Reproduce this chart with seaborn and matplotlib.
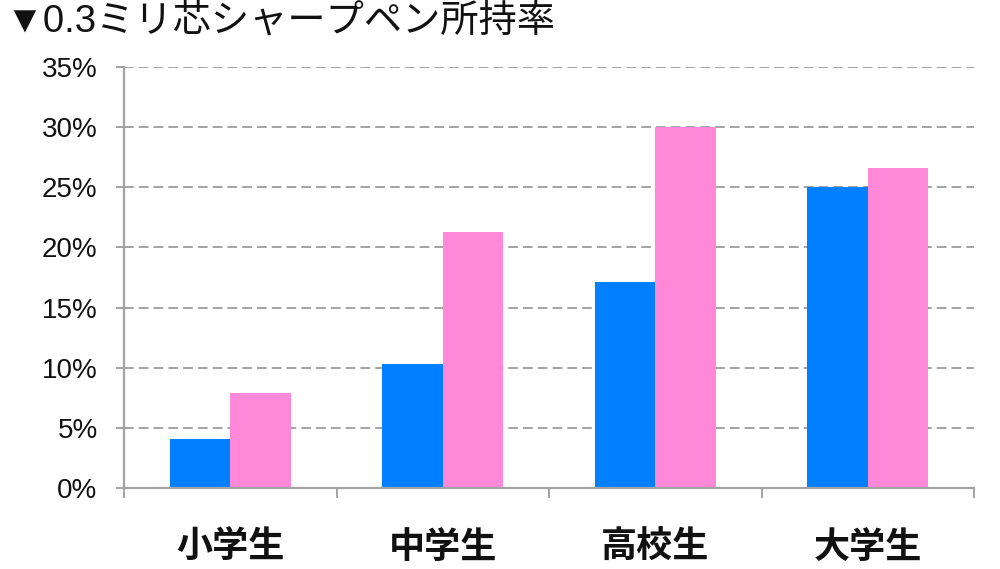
import matplotlib
matplotlib.use("Agg")
import matplotlib.pyplot as plt
import seaborn as sns
import pandas as pd

sns.set_theme(style="white")
plt.rcParams['font.family'] = ['Noto Sans CJK JP', 'DejaVu Sans']

# ---- data ----
categories = ['小学生', '中学生', '高校生', '大学生']
series_names = ['系列1', '系列2']
blue_values = [4.1, 10.3, 17.1, 25.0]
pink_values = [7.9, 21.3, 30.0, 26.6]
colors = ['#0080FF', '#FF88D8']
yticks = [0, 5, 10, 15, 20, 25, 30, 35]
title = '▼0.3ミリ芯シャープペン所持率'

data = pd.DataFrame({
    'category': categories * 2,
    'series': [series_names[0]] * len(categories) + [series_names[1]] * len(categories),
    'value': blue_values + pink_values,
})

fig = plt.figure(figsize=(10, 5.69), dpi=100)
ax = fig.add_axes([0.124, 0.1418, 0.85, 0.741])

sns.barplot(data=data, x='category', y='value', hue='series', order=categories,
            hue_order=series_names, palette=colors, width=0.57, gap=0,
            saturation=1, edgecolor='none', legend=False, ax=ax)

grid_color = '#A3A3A3'
ax.set_ylim(0, 35)
ax.set_xlim(-0.5, len(categories) - 0.5)
ax.set_yticks(yticks)
ax.set_yticklabels([f'{v}%' for v in yticks], fontsize=20,
                   family=['Liberation Sans', 'DejaVu Sans'], color='#111111')
ax.yaxis.grid(True, color=grid_color, linestyle=(0, (5, 2.6)), linewidth=1.4)
ax.set_axisbelow(True)

# category labels on major ticks, boundary ticks as minor
ax.set_xticks(range(len(categories)))
ax.set_xticklabels(categories, fontsize=26, fontweight='bold', color='#111111')
ax.set_xticks([i - 0.5 for i in range(len(categories) + 1)], minor=True)
ax.tick_params(axis='x', which='major', length=0, pad=29, bottom=True)
ax.tick_params(axis='x', which='minor', length=7, width=1.4, color=grid_color,
               direction='out', bottom=True)
ax.tick_params(axis='y', which='major', length=6, width=1.4, color=grid_color,
               direction='out', pad=13, left=True)

for side in ['top', 'right']:
    ax.spines[side].set_visible(False)
for side in ['left', 'bottom']:
    ax.spines[side].set_color(grid_color)
    ax.spines[side].set_linewidth(1.6)

ax.set_xlabel('')
ax.set_ylabel('')

fig.text(0.005, 1 - 22 / 569, title, fontsize=27.5, va='center', ha='left', color='#111111',
         family=['Liberation Sans', 'Noto Sans CJK JP', 'DejaVu Sans'])

plt.savefig('out.png', dpi=100)
